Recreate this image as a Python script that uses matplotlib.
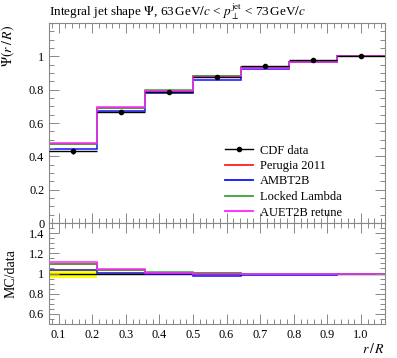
import numpy as np
import matplotlib
matplotlib.use('Agg')
import matplotlib.pyplot as plt
from matplotlib.lines import Line2D
from matplotlib.ticker import MultipleLocator, NullFormatter

plt.rcParams['font.family'] = ['Liberation Serif', 'DejaVu Serif']
plt.rcParams['mathtext.fontset'] = 'stix'

# r/R bin edges and values
r_edges = [0.0714, 0.2143, 0.3571, 0.5, 0.6429, 0.7857, 0.9286, 1.0714]
data_psi = [0.430, 0.667, 0.787, 0.877, 0.940, 0.975, 1.0]
data_err = [0.018, 0.012, 0.006, 0.004, 0.003, 0.002, 0.0]

perugia = [0.472, 0.693, 0.793, 0.881, 0.935, 0.966, 1.0]
ambt2b = [0.444, 0.670, 0.780, 0.859, 0.926, 0.965, 1.0]
locked = [0.472, 0.693, 0.800, 0.881, 0.937, 0.966, 1.0]
auet2b = [0.480, 0.698, 0.790, 0.877, 0.931, 0.966, 1.0]

mc_names = ['Perugia 2011', 'AMBT2B', 'Locked Lambda', 'AUET2B retune']
mc_colors = ['#ff2020', '#1010ff', '#3aa23a', '#ff22ff']
mc_values = [perugia, ambt2b, locked, auet2b]

edges = np.array(r_edges)
centers = 0.5 * (edges[:-1] + edges[1:])
halfw = 0.5 * np.diff(edges)
data = np.array(data_psi)
derr = np.array(data_err)

fig = plt.figure(figsize=(3.97, 3.58), dpi=100)
ax = fig.add_axes([49 / 397, 135 / 358, 336 / 397, 200 / 358])
rax = fig.add_axes([49 / 397, 34 / 358, 336 / 397, 101 / 358])

frame = '#888888'
for a in (ax, rax):
    for s in a.spines.values():
        s.set_color(frame)
        s.set_linewidth(0.8)
    a.tick_params(which='both', direction='in', top=True, right=True,
                  color=frame, labelsize=8.8, width=0.7)
    a.tick_params(which='major', length=7)
    a.tick_params(which='minor', length=3.5)
    a.xaxis.set_major_locator(MultipleLocator(0.1))
    a.xaxis.set_minor_locator(MultipleLocator(0.02))
    a.set_xlim(edges[0], edges[-1])

# main panel
handles = [Line2D([], [], color='black', marker='o', ms=3, lw=1.0)]
for name, col, vals in zip(mc_names, mc_colors, mc_values):
    ax.stairs(np.array(vals), edges, color=col, lw=1.1, baseline=None)
    handles.append(Line2D([], [], color=col, lw=1.3))
ax.errorbar(centers, data, yerr=derr, xerr=halfw, fmt='o', color='black',
            ms=3, lw=1.0, capsize=0, zorder=5)
ax.set_ylim(0, 1.2)
ax.set_yticks([0, 0.2, 0.4, 0.6, 0.8, 1.0])
ax.set_yticklabels(['0', '0.2', '0.4', '0.6', '0.8', '1'])
ax.yaxis.set_minor_locator(MultipleLocator(0.05))
ax.xaxis.set_major_formatter(NullFormatter())
ax.set_ylabel(r'$\Psi(r\,/\,R)$', fontsize=10, loc='top')
ax.yaxis.set_label_coords(-0.095, 0.99)
ax.set_title(r'Integral jet shape $\Psi$, 63$\,$GeV$/c$ < $p_\perp^{\mathrm{jet}}$ < 73$\,$GeV$/c$',
             loc='left', fontsize=9.5, pad=5)

ax.legend(handles, ['CDF data'] + mc_names,
          loc='upper left', bbox_to_anchor=(0.5, 0.43), frameon=False,
          fontsize=9, handlelength=2.3, labelspacing=0.28, handletextpad=0.55,
          borderaxespad=0.2)

# ratio panel
rax.fill_between(edges, np.append(1 - derr / data, 1), np.append(1 + derr / data, 1),
                 step='post', color='yellow', lw=0)
rax.stairs(np.ones(len(data)), edges, color='black', lw=1.0, baseline=None)
for name, col, vals in zip(mc_names, mc_colors, mc_values):
    rax.stairs(np.array(vals) / data, edges, color=col, lw=1.1, baseline=None)
rax.set_ylim(0.5, 1.5)
rax.set_yticks([0.6, 0.8, 1.0, 1.2, 1.4])
rax.set_yticklabels(['0.6', '0.8', '1', '1.2', '1.4'])
rax.yaxis.set_minor_locator(MultipleLocator(0.05))
rax.set_xticks([0.1, 0.2, 0.3, 0.4, 0.5, 0.6, 0.7, 0.8, 0.9, 1.0])
rax.set_xticklabels(['0.1', '0.2', '0.3', '0.4', '0.5', '0.6', '0.7', '0.8', '0.9', '1.0'])
rax.set_ylabel('MC/data', fontsize=10)
rax.yaxis.set_label_coords(-0.095, 0.5)
rax.set_xlabel(r'$r\,/\,R$', fontsize=10, loc='right', labelpad=1)

fig.savefig('out.png', dpi=100)
